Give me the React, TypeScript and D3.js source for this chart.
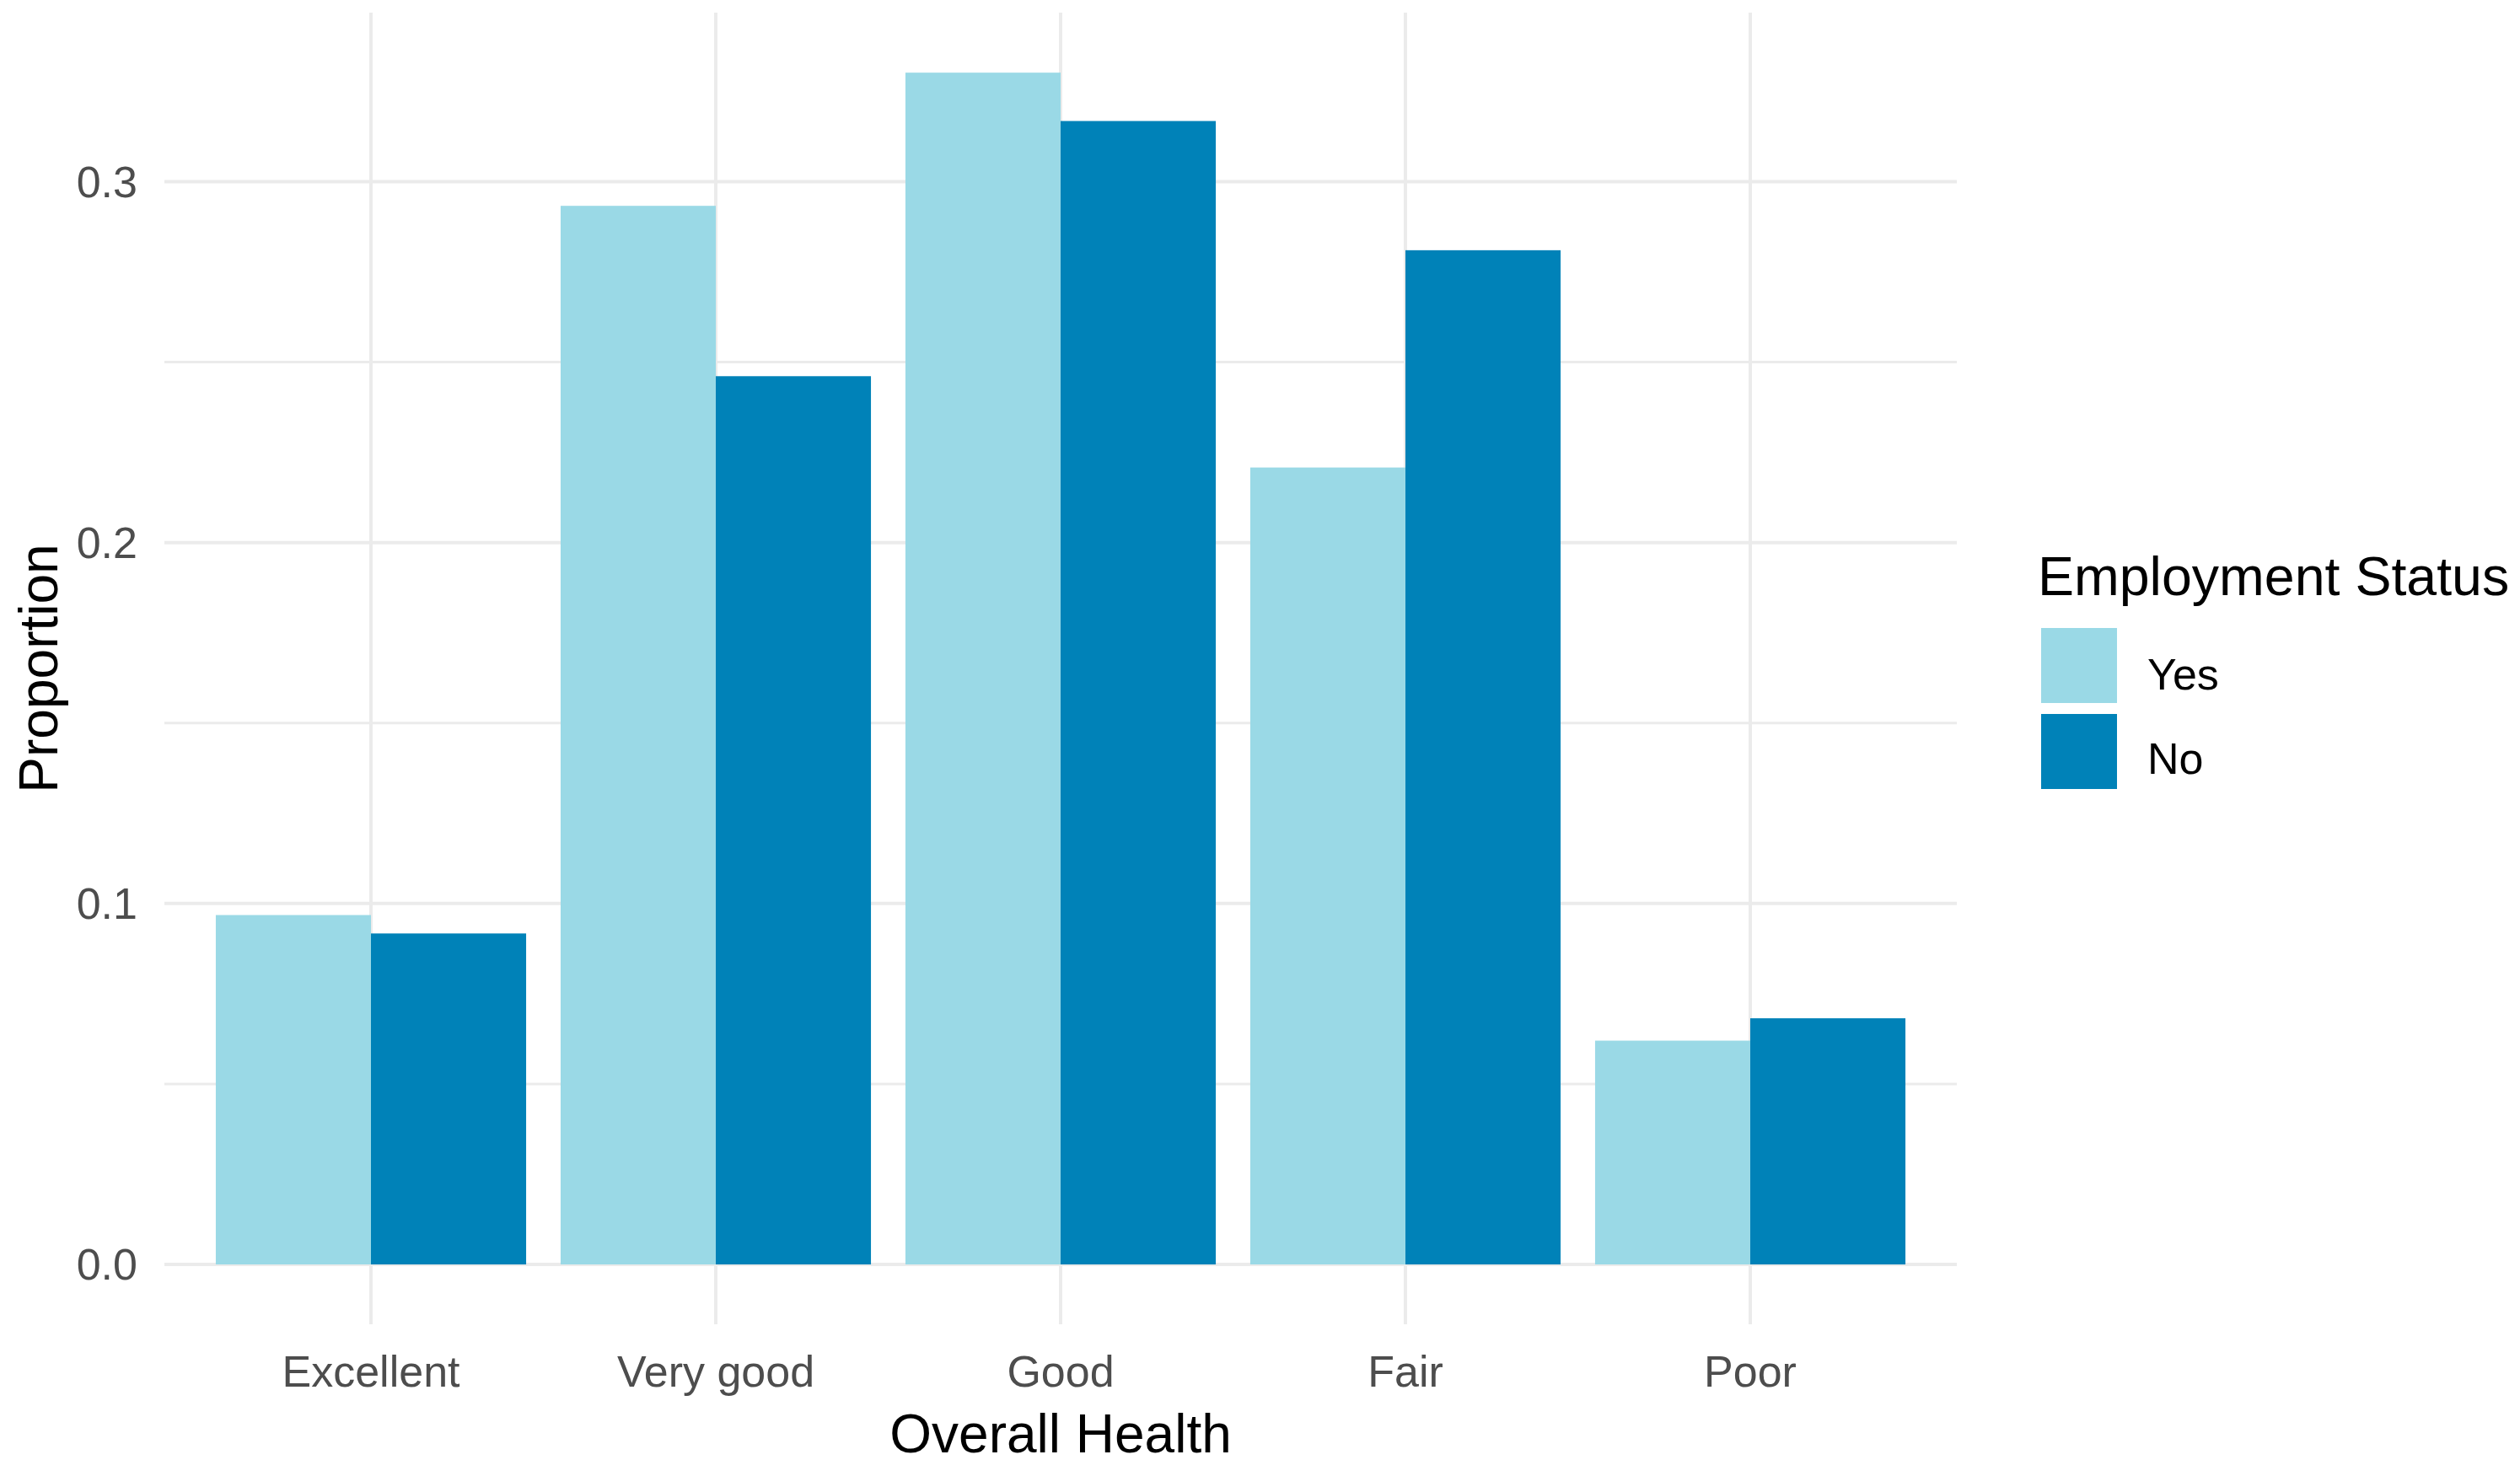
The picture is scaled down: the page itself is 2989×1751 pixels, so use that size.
import React from "react";
import * as d3 from "d3";

const categories = ["Excellent", "Very good", "Good", "Fair", "Poor"];
const groups = ["Yes", "No"];
const yesValues = [0.0968, 0.2933, 0.3302, 0.2208, 0.062];
const noValues = [0.0917, 0.2461, 0.3168, 0.281, 0.0682];
const majorTicks = [0, 0.1, 0.2, 0.3];
const minorTicks = [0.05, 0.15, 0.25];
const tickLabels = ["0.0", "0.1", "0.2", "0.3"];
const colors = ["#9AD9E6", "#0082B8"];

const W = 2989;
const H = 1751;
const panel = { left: 195, right: 2321, top: 15, bottom: 1571 };

export default function App() {
  const x = d3.scalePoint<string>().domain(categories).range([440, 2076]);
  const step = x.step();
  const dodge = d3.scaleBand<string>().domain(groups).range([-0.45 * step, 0.45 * step]);
  const y = d3.scaleLinear().domain([0, 0.3]).range([1500, 215.5]);
  const series = [yesValues, noValues];
  const font = "'Liberation Sans', Arial, sans-serif";

  return (
    <svg width={W} height={H} style={{ position: "absolute", left: 0, top: 0, background: "#fff" }} fontFamily={font}>
      <rect x={0} y={0} width={W} height={H} fill="#fff" />
      {minorTicks.map((t) => (
        <line key={"mi" + t} x1={panel.left} x2={panel.right} y1={y(t)} y2={y(t)} stroke="#ebebeb" strokeWidth={3} />
      ))}
      {majorTicks.map((t) => (
        <line key={"ma" + t} x1={panel.left} x2={panel.right} y1={y(t)} y2={y(t)} stroke="#ebebeb" strokeWidth={4} />
      ))}
      {categories.map((c) => (
        <line key={"v" + c} x1={x(c)} x2={x(c)} y1={panel.top} y2={panel.bottom} stroke="#ebebeb" strokeWidth={4} />
      ))}
      {categories.map((c, i) =>
        groups.map((g, gi) => {
          const v = series[gi][i];
          const x0 = (x(c) as number) + (dodge(g) as number);
          return (
            <rect key={c + g} x={x0} y={y(v)} width={dodge.bandwidth()} height={y(0) - y(v)} fill={colors[gi]} />
          );
        })
      )}
      {majorTicks.map((t, i) => (
        <text key={"yl" + t} x={163} y={y(t) + 18} textAnchor="end" fontSize={52} fill="#4d4d4d">
          {tickLabels[i]}
        </text>
      ))}
      {categories.map((c) => (
        <text key={"xl" + c} x={x(c)} y={1645} textAnchor="middle" fontSize={52} fill="#4d4d4d">
          {c}
        </text>
      ))}
      <text x={(panel.left + panel.right) / 2} y={1723} textAnchor="middle" fontSize={64} fill="#000">
        Overall Health
      </text>
      <text
        transform={`translate(68, ${(panel.top + panel.bottom) / 2}) rotate(-90)`}
        textAnchor="middle"
        fontSize={64}
        fill="#000"
      >
        Proportion
      </text>
      <text x={2417} y={706} fontSize={64.5} fill="#000">
        Employment Status
      </text>
      {groups.map((g, gi) => (
        <g key={"lg" + g}>
          <rect x={2421} y={745 + gi * 102} width={90} height={89} fill={colors[gi]} />
          <text x={2547} y={818 + gi * 100} fontSize={52} fill="#000">
            {g}
          </text>
        </g>
      ))}
    </svg>
  );
}
